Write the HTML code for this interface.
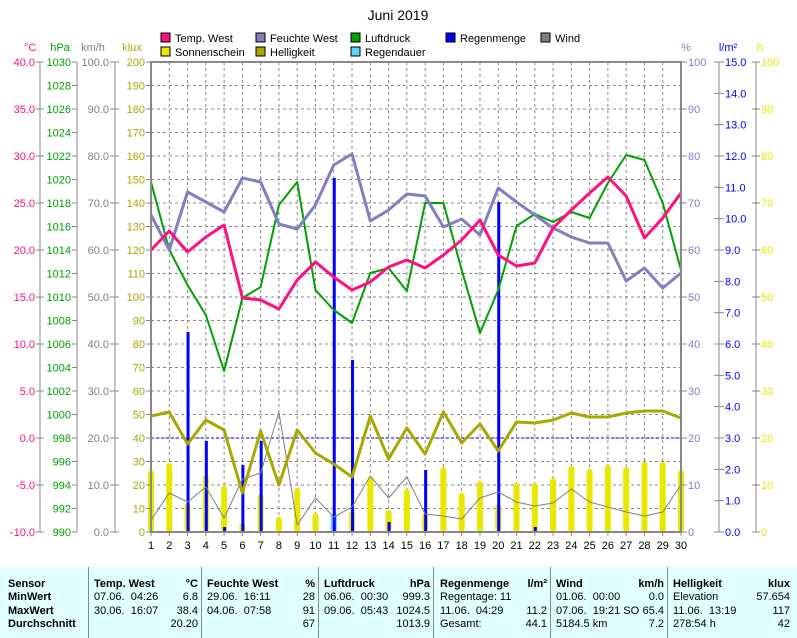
<!DOCTYPE html>
<html><head><meta charset="utf-8"><style>
body{margin:0;background:#fff;font-family:"Liberation Sans",sans-serif;}
#wrap{position:relative;width:797px;height:638px;overflow:hidden;background:#fff}
svg text{font-family:"Liberation Sans",sans-serif;font-size:11px}
#tbl{position:absolute;left:0;top:567px;width:797px;height:71px;background:#e0ffff;font-size:11px;}
#tbl div{position:absolute;white-space:nowrap}
.b{font-weight:bold}
.sep{position:absolute;top:0;height:71px;width:1px;background:#888}
</style></head><body><div id="wrap">
<svg id="s" width="797" height="567" xmlns="http://www.w3.org/2000/svg"></svg>
<div id="tbl"></div>
</div>
<script>
const s=document.getElementById('s');let h='';
const X=d=>151+(d-1)*530/29;
const L=151,R=681,T=62,B=532;
h+=`<text x="398" y="20" style="font-size:14px" text-anchor="middle">Juni 2019</text>`;
const leg=[[161,38,'#ff1080','Temp. West'],[256,38,'#8080c0','Feuchte West'],[351,38,'#00a000','Luftdruck'],[446,38,'#0000ff','Regenmenge'],[541,38,'#808080','Wind'],[161,52,'#e8e800','Sonnenschein'],[256,52,'#a8a800','Helligkeit'],[351,52,'#60d0ff','Regendauer']];
leg.forEach(l=>{h+=`<rect x="${l[0]}" y="${l[1]-5}" width="9" height="9" fill="${l[2]}" stroke="#000"/><text x="${l[0]+14}" y="${l[1]+4}">${l[3]}</text>`});
for(let d=2;d<30;d++)h+=`<line x1="${X(d)}" y1="${T}" x2="${X(d)}" y2="${B}" stroke="#888" stroke-dasharray="3,3"/>`;
for(let i=1;i<20;i++){const y=T+i*23.5;h+=`<line x1="${L}" y1="${y}" x2="${R}" y2="${y}" stroke="#888" stroke-dasharray="3,3"/>`}
h+=`<line x1="${L}" y1="438" x2="${R}" y2="438" stroke="#0000ff" stroke-dasharray="3,2"/>`;
const sun=[470,463,503,475,486,523,494,517,488,513,513,511,477,510,489,513,467,493,481,504,483,483,478,466,469,465,467,462,462,470];
sun.forEach((y,i)=>{h+=`<rect x="${X(i+1)-3}" y="${y}" width="6" height="${B-y}" rx="3" fill="#e8e800"/>`});
h+=`<rect x="${X(11)-3}" y="515" width="6" height="17" fill="#60d0ff"/>`;
const rain={3:332,4:441,5:527,6:465,7:441,11:178,12:360,14:522,16:470,20:202,22:527};
for(const d in rain)h+=`<rect x="${X(+d)-1}" y="${rain[d]}" width="3" height="${B-rain[d]}" fill="#0000ff"/>`;
const line=(a,c,w)=>{h+=`<polyline fill="none" stroke="${c}" stroke-width="${w}" stroke-linejoin="round" points="${a.map((y,i)=>X(i+1)+','+y).join(' ')}"/>`};
line([520,493,502,487,518,479,473,412,525,498,517,507,476,498,477,514,516,519,498,492,502,506,503,489,502,507,512,516,512,485],'#808080',1);
line([416,412,444,420,430,493,431,485,430,453,464,477,416,459,428,454,412,443,424,451,422,423,420,413,417,417,413,411,411,418],'#a8a800',3);
line([182,250,285,315,371,298,287,205,182,290,310,323,273,268,291,203,203,270,333,290,226,214,222,212,218,183,155,160,203,270],'#00a000',2);
line([215,250,192,202,212,178,182,224,229,205,165,154,221,210,194,196,227,219,235,188,202,215,228,237,243,243,281,268,288,273],'#8080c0',3);
line([250,231,252,237,225,298,300,309,280,262,277,290,282,267,260,268,255,240,220,255,266,263,228,210,193,177,196,238,218,193],'#ff1080',3);
h+=`<rect x="${L}" y="${T}" width="${R-L}" height="${B-T}" fill="none" stroke="#888" stroke-width="2"/>`;
for(let d=1;d<=30;d++)h+=`<line x1="${X(d)}" y1="${B}" x2="${X(d)}" y2="${B+4}" stroke="#888"/><text x="${X(d)}" y="${B+17}" text-anchor="middle">${d}</text>`;
h+=`<text x="30" y="51" fill="#ff1080" text-anchor="middle">°C</text><text x="60" y="51" fill="#00a000" text-anchor="middle">hPa</text><text x="93" y="51" fill="#808080" text-anchor="middle">km/h</text><text x="132" y="51" fill="#a8a800" text-anchor="middle">klux</text>`;
h+=`<line x1="40" y1="${T}" x2="40" y2="${B}" stroke="#888"/><line x1="77" y1="${T}" x2="77" y2="${B}" stroke="#888"/><line x1="115" y1="${T}" x2="115" y2="${B}" stroke="#888"/>`;
for(let i=0;i<=10;i++){const y=T+i*47;const v=(40-i*5).toFixed(1);h+=`<line x1="36" y1="${y}" x2="44" y2="${y}" stroke="#888"/><text x="35" y="${y+4}" fill="#ff1080" text-anchor="end">${v}</text>`;
 h+=`<line x1="110" y1="${y}" x2="119" y2="${y}" stroke="#888"/><text x="109" y="${y+4}" fill="#808080" text-anchor="end">${(100-i*10).toFixed(1)}</text>`;}
for(let i=0;i<=20;i++){const y=T+i*23.5;h+=`<line x1="72" y1="${y}" x2="77" y2="${y}" stroke="#888"/><text x="71" y="${y+4}" fill="#00a000" text-anchor="end">${1030-i*2}</text>`;
 h+=`<line x1="146" y1="${y}" x2="151" y2="${y}" stroke="#888"/><text x="145" y="${y+4}" fill="#a8a800" text-anchor="end">${200-i*10}</text>`;}
h+=`<text x="686" y="51" fill="#8080c0" text-anchor="middle">%</text><text x="728" y="51" fill="#0000ff" text-anchor="middle">l/m²</text><text x="760" y="51" fill="#e8e800" text-anchor="middle">h</text>`;
h+=`<line x1="719" y1="${T}" x2="719" y2="${B}" stroke="#888"/><line x1="756" y1="${T}" x2="756" y2="${B}" stroke="#888"/>`;
for(let i=0;i<=10;i++){const y=T+i*47;h+=`<line x1="681" y1="${y}" x2="687" y2="${y}" stroke="#888"/><text x="688" y="${y+4}" fill="#8080c0">${100-i*10}</text>`;
 h+=`<line x1="752" y1="${y}" x2="760" y2="${y}" stroke="#888"/><text x="761" y="${y+4}" fill="#e8e800">${100-i*10}</text>`;}
for(let i=0;i<=15;i++){const y=T+i*470/15;h+=`<line x1="714" y1="${y}" x2="724" y2="${y}" stroke="#888"/><text x="725" y="${y+4}" fill="#0000ff">${(15-i).toFixed(1)}</text>`;}
s.innerHTML=h;
const t=document.getElementById('tbl');let g='';
const rows=[584,597,611,624].map(y=>y-567-6);
const cell=(x,r,txt,b,right)=>{g+=`<div class="${b?'b':''}" style="${right?'right:'+(797-x)+'px':'left:'+x+'px'};top:${rows[r]}px">${txt}</div>`};
['Sensor','MinWert','MaxWert','Durchschnitt'].forEach((v,i)=>cell(8,i,v,1));
[88,201,318,433,550,667].forEach(x=>g+=`<div class="sep" style="left:${x}px"></div>`);
const cols=[[94,198,'Temp. West','°C',['07.06.  04:26','6.8'],['30.06.  16:07','38.4'],['','20.20']],
[207,315,'Feuchte West','%',['29.06.  16:11','28'],['04.06.  07:58','91'],['','67']],
[324,430,'Luftdruck','hPa',['06.06.  00:30','999.3'],['09.06.  05:43','1024.5'],['','1013.9']],
[440,547,'Regenmenge','l/m²',['Regentage: 11',''],['11.06.  04:29','11.2'],['Gesamt:','44.1']],
[556,664,'Wind','km/h',['01.06.  00:00','0.0'],['07.06.  19:21 SO','65.4'],['5184.5 km','7.2']],
[673,790,'Helligkeit','klux',['Elevation','57.654'],['11.06.  13:19','117'],['278:54 h','42']]];
cols.forEach(c=>{cell(c[0],0,c[2],1);cell(c[1],0,c[3],1,1);for(let r=1;r<4;r++){cell(c[0],r,c[3+r][0].replace(/  /g,'&nbsp; '));cell(c[1],r,c[3+r][1],0,1)}});
t.innerHTML=g;
</script></body></html>
